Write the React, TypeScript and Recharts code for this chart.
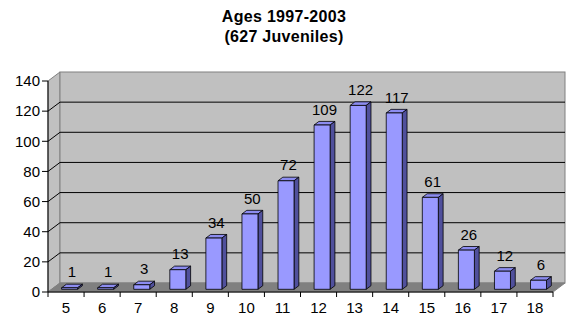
import { BarChart, Bar, XAxis, YAxis, ReferenceArea, LabelList } from 'recharts';

const ages = ['5', '6', '7', '8', '9', '10', '11', '12', '13', '14', '15', '16', '17', '18'];
const counts = [1, 1, 3, 13, 34, 50, 72, 109, 122, 117, 61, 26, 12, 6];
const yTicks = [0, 20, 40, 60, 80, 100, 120, 140];

const data = ages.map((age, i) => ({ age, count: counts[i] }));

const W = 568;
const H = 320;
const DEPTH_X = 12;
const DEPTH_Y = -9;
const PLOT_W = 505;
const HALF_BAND = PLOT_W / ages.length / 2;
const font = 'Arial, "Liberation Sans", sans-serif';

// back wall, side wall and floor, with the grid lines on them
function Walls(props: any) {
  const { x, y, width, height } = props;
  const bottom = y + height;
  return (
    <g>
      <polygon
        points={`${x},${y} ${x + DEPTH_X},${y + DEPTH_Y} ${x + DEPTH_X},${bottom + DEPTH_Y} ${x},${bottom}`}
        fill="#c0c0c0"
        stroke="#808080"
      />
      <rect x={x + DEPTH_X} y={y + DEPTH_Y} width={width} height={height} fill="#c0c0c0" stroke="#808080" />
      <polygon
        points={`${x},${bottom} ${x + DEPTH_X},${bottom + DEPTH_Y} ${x + width + DEPTH_X},${bottom + DEPTH_Y} ${x + width},${bottom}`}
        fill="#808080"
        stroke="#808080"
      />
      {yTicks.slice(1, -1).map((t) => {
        const yy = y + height * (1 - t / 140);
        return (
          <polyline
            key={t}
            points={`${x},${yy} ${x + DEPTH_X},${yy + DEPTH_Y} ${x + width + DEPTH_X},${yy + DEPTH_Y}`}
            fill="none"
            stroke="#000"
          />
        );
      })}
    </g>
  );
}

function Bar3D(props: any) {
  const { x, y, width, height } = props;
  const fx = x + 3.6;
  const fy = y - 2.7;
  const dx = 4.8;
  const dy = -3.6;
  return (
    <g stroke="#000" strokeWidth={0.8} strokeLinejoin="round">
      <polygon
        points={`${fx},${fy} ${fx + dx},${fy + dy} ${fx + width + dx},${fy + dy} ${fx + width},${fy}`}
        fill="#8c8cf0"
      />
      <polygon
        points={`${fx + width},${fy} ${fx + width + dx},${fy + dy} ${fx + width + dx},${fy + height + dy} ${fx + width},${fy + height}`}
        fill="#50509c"
      />
      <rect x={fx} y={fy} width={width} height={height} fill="#9999ff" />
    </g>
  );
}

function ValueLabel(props: any) {
  const { x, y, width, value } = props;
  return (
    <text x={x + width / 2 + 6} y={y - 13} textAnchor="middle" fontSize={15} fontFamily={font} fill="#000">
      {value}
    </text>
  );
}

function AgeTick(props: any) {
  const { x, y, payload, index } = props;
  const last = index === ages.length - 1;
  return (
    <g>
      <line x1={x - HALF_BAND} y1={292} x2={x - HALF_BAND} y2={297} stroke="#000" />
      {last && <line x1={x + HALF_BAND} y1={292} x2={x + HALF_BAND} y2={297} stroke="#000" />}
      <text x={x} y={y + 2} dy="0.71em" textAnchor="middle" fontSize={15} fontFamily={font} fill="#000">
        {payload.value}
      </text>
    </g>
  );
}

export default function App() {
  return (
    <div style={{ position: 'absolute', left: 0, top: 0, width: W, height: H, background: '#fff' }}>
      <div
        style={{
          position: 'absolute',
          left: 0,
          top: 7,
          width: W,
          textAlign: 'center',
          fontFamily: font,
          fontWeight: 'bold',
          fontSize: 16,
          lineHeight: '20px',
          letterSpacing: 0.3,
        }}
      >
        Ages 1997-2003
        <br />
        (627 Juveniles)
      </div>
      <BarChart width={W} height={H} data={data} margin={{ top: 81, right: 15, bottom: 0, left: 0 }}>
        <ReferenceArea y1={0} y2={140} shape={<Walls />} ifOverflow="visible" />
        <XAxis
          dataKey="age"
          height={28}
          tickLine={false}
          axisLine={{ stroke: '#000' }}
          tick={<AgeTick />}
          interval={0}
        />
        <YAxis
          width={48}
          domain={[0, 140]}
          ticks={yTicks}
          interval={0}
          tickSize={6}
          tickMargin={2}
          axisLine={{ stroke: '#000' }}
          tickLine={{ stroke: '#000' }}
          tick={{ fontSize: 15, fontFamily: font, fill: '#000' }}
        />
        <Bar dataKey="count" barSize={16} shape={<Bar3D />} isAnimationActive={false}>
          <LabelList dataKey="count" content={<ValueLabel />} />
        </Bar>
      </BarChart>
    </div>
  );
}
